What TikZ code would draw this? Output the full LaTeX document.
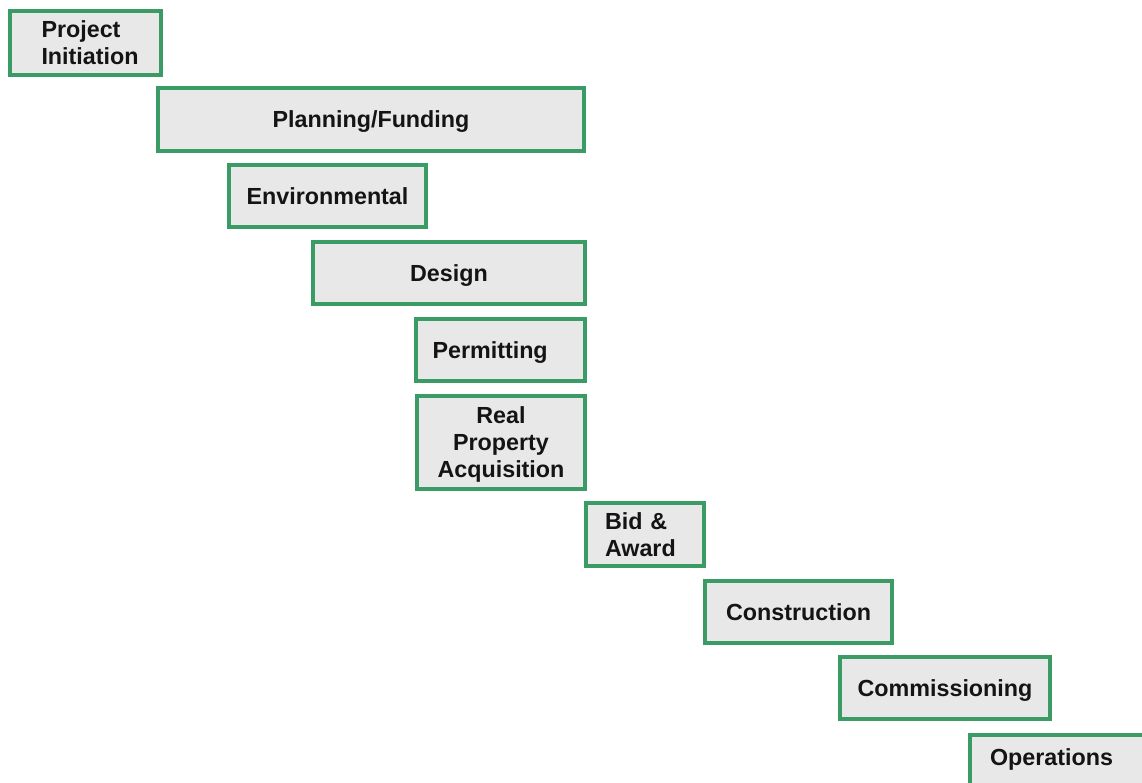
\documentclass[tikz,border=0pt]{standalone}
\usepackage{fontspec}
\setmainfont{Liberation Sans}
\definecolor{boxgreen}{RGB}{58,155,100}
\definecolor{boxfill}{RGB}{232,232,232}
\definecolor{txt}{RGB}{20,20,20}
\hfuzz=30pt
\begin{document}
\begin{tikzpicture}[x=1pt,y=-1pt,
  phase/.style={draw=boxgreen, fill=boxfill, line width=4pt, inner sep=0pt,
    text=txt, font=\bfseries\fontsize{23.3}{27}\selectfont, text depth=0pt, align=center},
  leftphase/.style={phase, align=left, text depth={}}]
\useasboundingbox (0,0) rectangle (1142,782);
\clip (0,0) rectangle (1142,782);
\node[leftphase, minimum width=151pt, minimum height=64pt, text width=88pt] (init) at (85.5,43) {Project\\Initiation};
\node[phase, minimum width=426pt, minimum height=63pt] (plan) at (371,119.5) {Planning/Funding};
\node[phase, minimum width=197pt, minimum height=62pt] (env) at (327.5,196) {Environmental};
\node[phase, minimum width=272pt, minimum height=62pt] (design) at (449,273) {Design};
\node[phase, minimum width=169pt, minimum height=62pt, text width=136pt, align=left] (permit) at (500.5,350) {Permitting};
\node[phase, minimum width=168pt, minimum height=93pt] (rpa) at (501,442.5) {Real\\Property\\Acquisition};
\node[leftphase, minimum width=118pt, minimum height=63pt, text width=80pt] (bid) at (645,534.5) {Bid \&\\Award};
\node[phase, minimum width=187pt, minimum height=62pt] (constr) at (798.5,612) {Construction};
\node[phase, minimum width=210pt, minimum height=62pt] (comm) at (945,688) {Commissioning};
\node[phase, minimum width=200pt, minimum height=60pt, text width=160pt, align=left, text depth=15pt] (ops) at (1070,765) {Operations};
\end{tikzpicture}
\end{document}
